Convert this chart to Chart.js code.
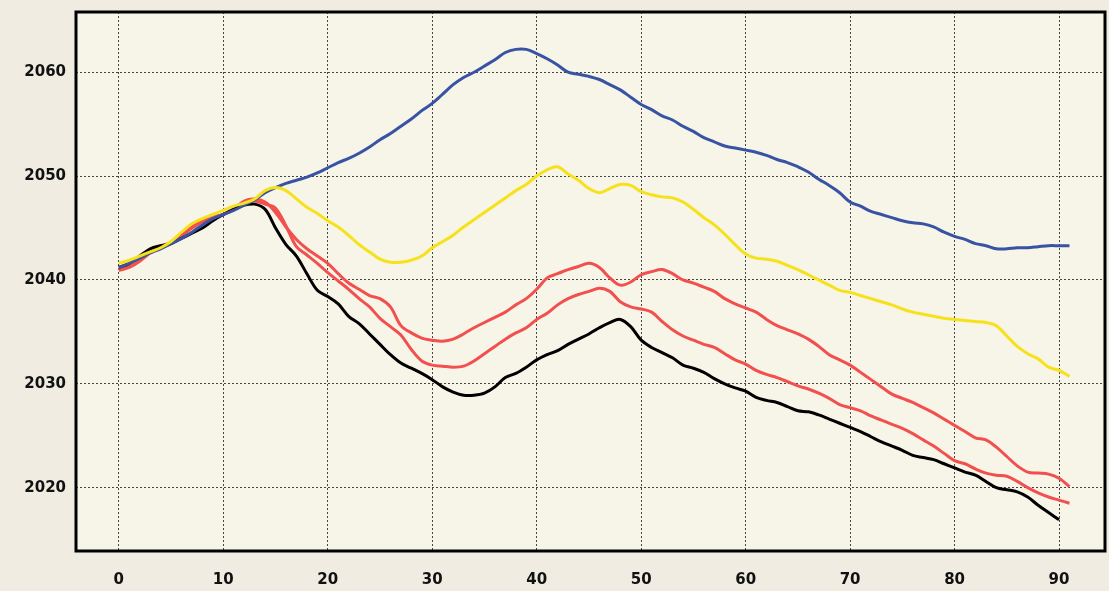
<!DOCTYPE html>
<html>
<head>
<meta charset="utf-8">
<script src="https://cdn.jsdelivr.net/npm/chart.js@4.4.1/dist/chart.umd.min.js"></script>
<style>
  html, body { margin: 0; padding: 0; background: #f0ece2; }
  #wrap { position: relative; width: 1109px; height: 591px; }
</style>
</head>
<body>
<div id="wrap"><canvas id="chart"></canvas></div>
<script>
// x positions (steps), shared by all series
const xValues = [0,1,2,3,4,5,6,7,8,9,10,11,12,13,14,15,16,17,18,19,20,21,22,23,24,25,26,27,28,29,
  30,31,32,33,34,35,36,37,38,39,40,41,42,43,44,45,46,47,48,49,50,51,52,53,54,55,56,57,58,59,
  60,61,62,63,64,65,66,67,68,69,70,71,72,73,74,75,76,77,78,79,80,81,82,83,84,85,86,87,88,89,90,91];

const xTicks = [0, 10, 20, 30, 40, 50, 60, 70, 80, 90];
const yTicks = [2020, 2030, 2040, 2050, 2060];

const blueSeries = [2041.2,2041.6,2042.1,2042.6,2043.0,2043.5,2044.0,2044.6,2045.3,2045.9,
  2046.3,2046.7,2047.2,2047.7,2048.4,2048.9,2049.3,2049.6,2049.9,2050.3,
  2050.8,2051.3,2051.7,2052.2,2052.8,2053.5,2054.1,2054.8,2055.5,2056.3,
  2057.0,2057.9,2058.8,2059.5,2060.0,2060.6,2061.2,2061.9,2062.2,2062.2,
  2061.8,2061.3,2060.7,2060.0,2059.8,2059.6,2059.3,2058.8,2058.3,2057.6,
  2056.9,2056.4,2055.8,2055.4,2054.8,2054.3,2053.7,2053.3,2052.9,2052.7,
  2052.5,2052.3,2052.0,2051.6,2051.3,2050.9,2050.4,2049.7,2049.1,2048.4,
  2047.5,2047.1,2046.6,2046.3,2046.0,2045.7,2045.5,2045.4,2045.1,2044.6,
  2044.2,2043.9,2043.5,2043.3,2043.0,2043.0,2043.1,2043.1,2043.2,2043.3,
  2043.3,2043.3];

const yellowSeries = [2041.6,2041.9,2042.3,2042.7,2043.1,2043.7,2044.6,2045.4,2045.9,2046.3,
  2046.7,2047.1,2047.4,2047.8,2048.6,2048.9,2048.6,2047.8,2047.0,2046.4,
  2045.7,2045.1,2044.3,2043.4,2042.7,2042.0,2041.7,2041.7,2041.9,2042.3,
  2043.1,2043.7,2044.3,2045.1,2045.8,2046.5,2047.2,2047.9,2048.6,2049.2,
  2050.0,2050.6,2050.9,2050.2,2049.6,2048.8,2048.4,2048.8,2049.2,2049.1,
  2048.5,2048.2,2048.0,2047.9,2047.5,2046.8,2046.0,2045.3,2044.4,2043.4,
  2042.5,2042.1,2042.0,2041.8,2041.4,2041.0,2040.5,2040.0,2039.5,2039.0,
  2038.8,2038.5,2038.2,2037.9,2037.6,2037.2,2036.9,2036.7,2036.5,2036.3,
  2036.2,2036.1,2036.0,2035.9,2035.6,2034.6,2033.6,2032.9,2032.4,2031.6,
  2031.3,2030.7];

const redUpperSeries = [2041.0,2041.5,2042.1,2042.8,2043.3,2043.6,2044.4,2045.2,2045.8,2046.1,
  2046.3,2046.8,2047.6,2047.8,2047.5,2046.5,2045.1,2043.9,2043.0,2042.3,
  2041.6,2040.6,2039.7,2039.1,2038.5,2038.2,2037.4,2035.6,2034.9,2034.4,
  2034.2,2034.1,2034.3,2034.8,2035.4,2035.9,2036.4,2036.9,2037.6,2038.2,
  2039.1,2040.2,2040.6,2041.0,2041.3,2041.6,2041.2,2040.2,2039.5,2039.8,
  2040.5,2040.8,2041.0,2040.6,2040.0,2039.7,2039.3,2038.9,2038.2,2037.7,
  2037.3,2036.9,2036.2,2035.6,2035.2,2034.8,2034.3,2033.6,2032.8,2032.3,
  2031.8,2031.1,2030.4,2029.7,2029.0,2028.6,2028.2,2027.7,2027.2,2026.6,
  2026.0,2025.4,2024.8,2024.6,2023.9,2023.0,2022.1,2021.5,2021.4,2021.3,
  2020.9,2020.1];

const redLowerSeries = [2040.9,2041.2,2041.8,2042.6,2043.1,2043.5,2044.2,2045.0,2045.6,2046.0,
  2046.3,2046.9,2047.5,2047.6,2047.3,2046.9,2045.2,2043.2,2042.4,2041.6,
  2040.7,2039.9,2039.1,2038.2,2037.4,2036.3,2035.5,2034.7,2033.3,2032.2,
  2031.8,2031.7,2031.6,2031.7,2032.2,2032.9,2033.6,2034.3,2034.9,2035.4,
  2036.2,2036.8,2037.6,2038.2,2038.6,2038.9,2039.2,2038.9,2037.9,2037.4,
  2037.2,2036.9,2036.0,2035.2,2034.6,2034.2,2033.8,2033.5,2032.9,2032.3,
  2031.9,2031.3,2030.9,2030.6,2030.2,2029.8,2029.5,2029.1,2028.6,2028.0,
  2027.7,2027.4,2026.9,2026.5,2026.1,2025.7,2025.2,2024.6,2024.0,2023.3,
  2022.6,2022.3,2021.8,2021.4,2021.2,2021.1,2020.6,2020.0,2019.5,2019.1,
  2018.8,2018.5];

const blackSeries = [2041.2,2041.6,2042.3,2043.0,2043.3,2043.5,2044.0,2044.5,2045.0,2045.7,
  2046.3,2046.8,2047.2,2047.3,2046.8,2045.0,2043.4,2042.3,2040.6,2039.0,
  2038.4,2037.7,2036.5,2035.8,2034.8,2033.8,2032.8,2032.0,2031.5,2031.0,
  2030.4,2029.7,2029.2,2028.9,2028.9,2029.1,2029.7,2030.6,2031.0,2031.6,
  2032.3,2032.8,2033.2,2033.8,2034.3,2034.8,2035.4,2035.9,2036.2,2035.5,
  2034.2,2033.5,2033.0,2032.5,2031.8,2031.5,2031.1,2030.5,2030.0,2029.6,
  2029.3,2028.7,2028.4,2028.2,2027.8,2027.4,2027.3,2027.0,2026.6,2026.2,
  2025.8,2025.4,2024.9,2024.4,2024.0,2023.6,2023.1,2022.9,2022.7,2022.3,
  2021.9,2021.5,2021.2,2020.6,2020.0,2019.8,2019.6,2019.1,2018.3,2017.6,
  2016.9];

const toPoints = vals => vals.map((v, i) => ({ x: xValues[i], y: v }));

// box around the plot area
const frameBox = {
  id: 'frameBox',
  beforeDraw(chart) {
    const { ctx, chartArea: a } = chart;
    ctx.save();
    ctx.fillStyle = '#f7f4e8';
    ctx.fillRect(a.left, a.top, a.right - a.left, a.bottom - a.top);
    ctx.restore();
  },
  afterDraw(chart) {
    const { ctx, chartArea: a } = chart;
    ctx.save();
    ctx.strokeStyle = '#000';
    ctx.lineWidth = 3;
    ctx.strokeRect(a.left, a.top, a.right - a.left, a.bottom - a.top);
    ctx.restore();
  }
};

function line(data, color) {
  return {
    data: toPoints(data),
    borderColor: color,
    borderWidth: 3,
    pointRadius: 0,
    tension: 0.35,
    fill: false,
  };
}

const tickFont = { family: 'DejaVu Sans', weight: 'bold', size: 15 };

new Chart(document.getElementById('chart'), {
  type: 'line',
  data: {
    datasets: [
      line(yellowSeries, '#f6e21a'),
      line(blueSeries, '#3953a4'),
      line(blackSeries, '#000000'),
      line(redUpperSeries, '#f2504f'),
      line(redLowerSeries, '#f2504f'),
    ],
  },
  options: {
    responsive: true,
    maintainAspectRatio: false,
    animation: false,
    layout: { padding: { top: 12, right: 4, left: 0, bottom: 0 } },
    plugins: { legend: { display: false }, tooltip: { enabled: false } },
    scales: {
      x: {
        type: 'linear',
        min: -4.1,
        max: 94.4,
        afterBuildTicks: s => { s.ticks = xTicks.map(v => ({ value: v })); },
        afterFit: s => { s.height = 40; s.paddingLeft = 0; s.paddingRight = 0; },
        grid: { color: '#444', lineWidth: 1, drawTicks: false },
        border: { display: false, dash: [2, 2] },
        ticks: { font: tickFont, color: '#111', padding: 20, maxRotation: 0,
                 callback: v => String(v) },
      },
      y: {
        type: 'linear',
        min: 2013.9,
        max: 2065.8,
        afterBuildTicks: s => { s.ticks = yTicks.map(v => ({ value: v })); },
        afterFit: s => { s.width = 76; s.paddingTop = 0; s.paddingBottom = 0; },
        grid: { color: '#444', lineWidth: 1, drawTicks: false },
        border: { display: false, dash: [2, 2] },
        ticks: { font: tickFont, color: '#111', padding: 10,
                 callback: v => String(v) },
      },
    },
  },
  plugins: [frameBox],
});
</script>
</body>
</html>
